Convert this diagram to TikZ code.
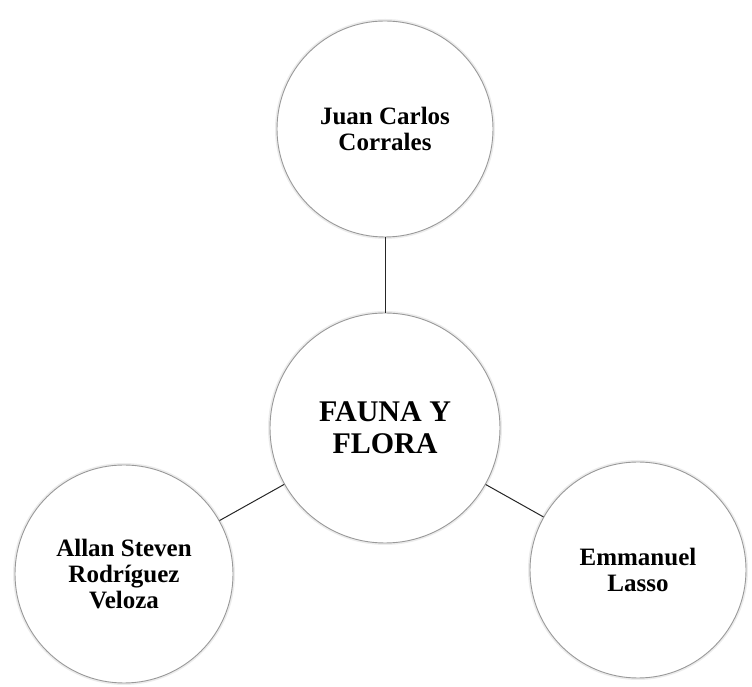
\documentclass[tikz,border=0pt]{standalone}
\usepackage{fontspec}
\setmainfont{Liberation Serif}
\usetikzlibrary{positioning}
\tikzstyle{conector} = [line width=1pt, draw=black!85]
\tikzstyle{circulo} = [
circle, draw=gray!80, line width=0.9pt, fill=white,
preaction={draw=gray!15, line width=4pt},
text centered, align=center, inner sep=0pt, text=black
]
\tikzstyle{nombre} = [
circulo, minimum size=216pt, font=\bfseries\fontsize{25}{26}\selectfont
]
\tikzstyle{tema} = [
circulo, minimum size=230pt, font=\bfseries\fontsize{30}{32}\selectfont
]

\begin{document}
\begin{tikzpicture}
			\useasboundingbox (0,0) rectangle (752pt,687pt);
			% Tema central
			\node (Centro) [tema] at (385pt,259pt) {FAUNA Y\\FLORA};

			% Integrantes
			\node (Juan) [nombre] at (385pt,558pt) {Juan Carlos\\Corrales};
			\node (Allan) [nombre, minimum size=218pt] at (124pt,113pt) {Allan Steven\\Rodríguez\\Veloza};
			\node (Emmanuel) [nombre] at (638pt,117pt) {Emmanuel\\Lasso};

			% Conexiones
			\draw [conector] (Centro) -- (Juan);
			\draw [conector] (Centro) -- (Allan);
			\draw [conector] (Centro) -- (Emmanuel);
\end{tikzpicture}
\end{document}
